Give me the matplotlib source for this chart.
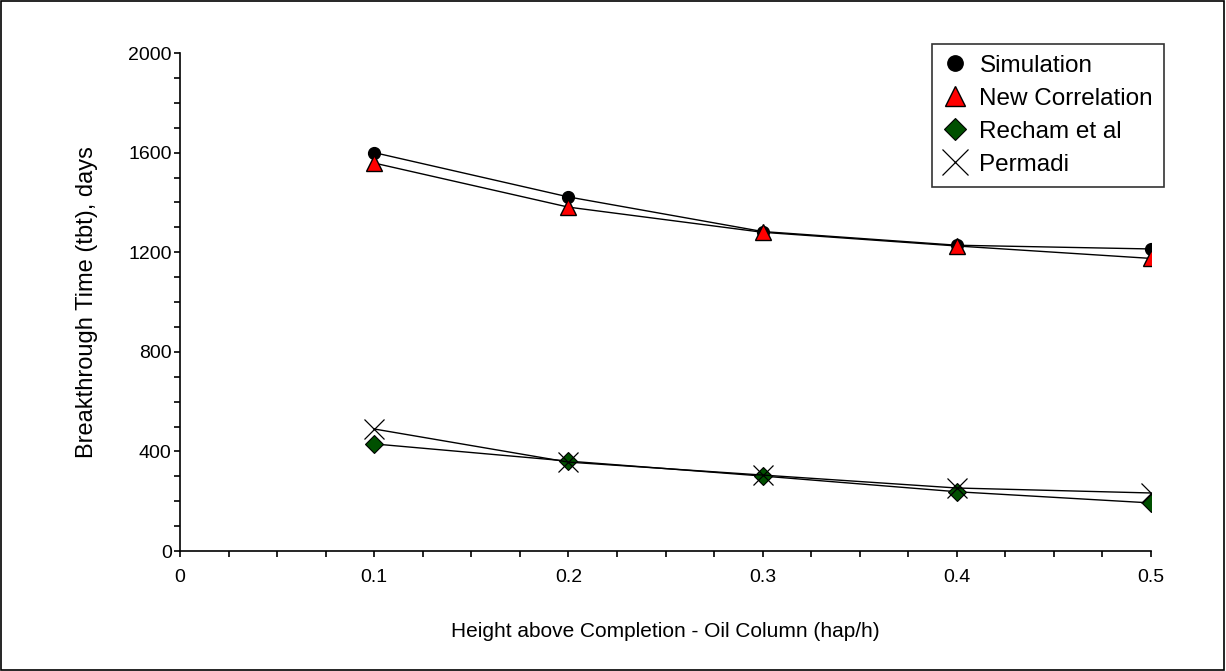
import matplotlib.pyplot as plt
from matplotlib.ticker import MultipleLocator
from matplotlib.patches import Rectangle

# data
hap_h = [0.1, 0.2, 0.3, 0.4, 0.5]
simulation = [1600, 1422, 1283, 1228, 1213]
new_correlation = [1558, 1381, 1280, 1225, 1175]
recham = [430, 361, 301, 238, 193]
permadi = [490, 357, 305, 253, 233]

plt.rcParams['font.family'] = ['Liberation Sans', 'DejaVu Sans']

fig = plt.figure(figsize=(12.26, 6.71), dpi=100)
ax = fig.add_axes([180 / 1226, 1 - 551 / 671, 971 / 1226, 498 / 671])

# outer frame around the whole picture
fig.patches.append(Rectangle((0.001, 0.001), 0.997, 0.997, transform=fig.transFigure,
                             fill=False, edgecolor='black', linewidth=1.2))

ax.plot(hap_h, simulation, color='black', lw=1, marker='o', ms=8.5,
        mfc='black', mec='black', label='Simulation', zorder=3)
ax.plot(hap_h, new_correlation, color='black', lw=1, marker='^', ms=11,
        mfc='#ff0000', mec='black', mew=1, label='New Correlation', zorder=3)
ax.plot(hap_h, recham, color='black', lw=1, marker='D', ms=9,
        mfc='#005000', mec='black', mew=0.8, label='Recham et al', zorder=3)
ax.plot(hap_h, permadi, color='black', lw=1, marker='x', ms=14,
        mec='black', mew=0.9, label='Permadi', zorder=4)

ax.set_xlim(0, 0.5)
ax.set_ylim(0, 2000)
ax.xaxis.set_major_locator(MultipleLocator(0.1))
ax.xaxis.set_minor_locator(MultipleLocator(0.025))
ax.yaxis.set_major_locator(MultipleLocator(400))
ax.yaxis.set_minor_locator(MultipleLocator(100))
ax.set_xticks([0, 0.1, 0.2, 0.3, 0.4, 0.5])
ax.set_xticklabels(['0', '0.1', '0.2', '0.3', '0.4', '0.5'])

ax.spines['top'].set_visible(False)
ax.spines['right'].set_visible(False)
ax.spines['left'].set_linewidth(1.2)
ax.spines['bottom'].set_linewidth(1.2)
ax.tick_params(which='both', direction='out', width=1.2, length=4, labelsize=14, color='black')
ax.tick_params(axis='x', which='major', pad=9)
ax.tick_params(axis='y', which='major', pad=2)

ax.set_xlabel('Height above Completion - Oil Column (hap/h)', fontsize=15, labelpad=26)
ax.set_ylabel('Breakthrough Time (tbt), days', fontsize=17, labelpad=22)

leg = ax.legend(loc='upper right', bbox_to_anchor=(1164 / 1226, 1 - 44 / 671),
                bbox_transform=fig.transFigure, fontsize=17.5, frameon=True,
                fancybox=False, edgecolor='black', handlelength=1.0,
                handletextpad=0.5, borderpad=0.45, labelspacing=0.45,
                borderaxespad=0, markerscale=1.3)
leg.get_frame().set_linewidth(1.2)
for h in leg.get_lines():
    h.set_linestyle('None')

fig.savefig('out.png', dpi=100)
